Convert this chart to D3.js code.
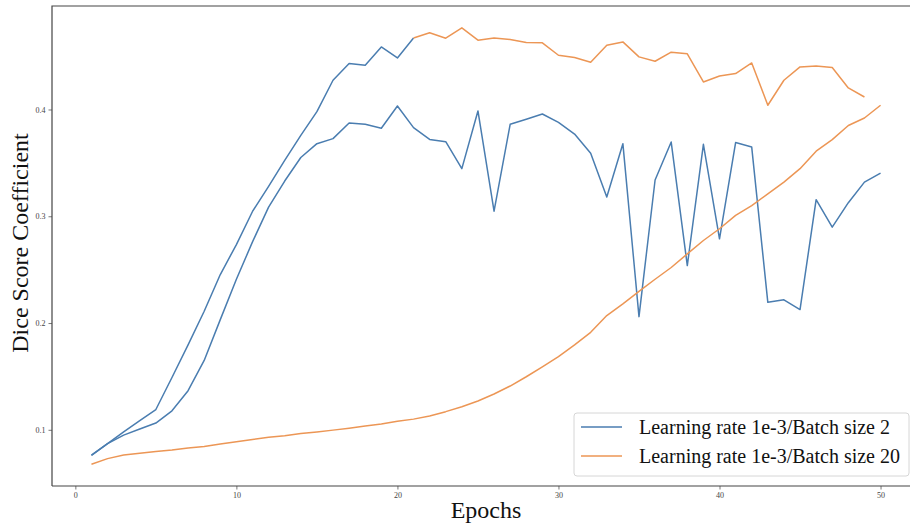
<!DOCTYPE html>
<html>
<head>
<meta charset="utf-8">
<script src="https://cdn.jsdelivr.net/npm/d3@7"></script>
<style>
  body { margin: 0; background: #fff; }
  svg { display: block; }
</style>
</head>
<body>
<svg id="chart" width="910" height="525"></svg>
<script>
// data
const epochs = d3.range(1, 51);
const bs2UpperEpochs = d3.range(1, 22);
const bs2Upper = [0.076, 0.087, 0.098, 0.1085, 0.119, 0.149, 0.1795, 0.211, 0.2454, 0.2735,
  0.3045, 0.328, 0.3523, 0.3758, 0.398, 0.4274, 0.443, 0.4415, 0.4586, 0.4483, 0.467];
const bs2Lower = [0.0763, 0.087, 0.095, 0.1007, 0.1063, 0.1178, 0.1366, 0.165, 0.2032, 0.241,
  0.276, 0.3085, 0.333, 0.355, 0.368, 0.3727, 0.3873, 0.3861, 0.3824, 0.4033,
  0.383, 0.372, 0.3699, 0.3446, 0.3986, 0.3048, 0.3861, 0.3908, 0.3958, 0.388,
  0.377, 0.359, 0.318, 0.368, 0.206, 0.334, 0.3695, 0.2538, 0.3674, 0.2789,
  0.369, 0.3648, 0.2194, 0.2217, 0.2126, 0.3155, 0.2898, 0.3127, 0.332, 0.3404];
const bs20UpperEpochs = d3.range(21, 50);
const bs20Upper = [0.467, 0.4718, 0.4668, 0.4765, 0.4649, 0.467, 0.4656, 0.4628, 0.4624, 0.4508,
  0.4487, 0.4443, 0.4602, 0.4633, 0.4493, 0.4452, 0.4537, 0.4521, 0.4258, 0.4314,
  0.4337, 0.4436, 0.404, 0.4274, 0.4399, 0.4408, 0.4393, 0.4202, 0.4117];
const bs20Lower = [0.0678, 0.073, 0.0763, 0.078, 0.0797, 0.081, 0.083, 0.0844, 0.0866, 0.0887,
  0.091, 0.093, 0.0945, 0.0965, 0.098, 0.0997, 0.1015, 0.1035, 0.1055, 0.108,
  0.110, 0.113, 0.117, 0.1216, 0.127, 0.1335, 0.141, 0.1497, 0.159, 0.1685,
  0.1795, 0.1913, 0.207, 0.218, 0.2297, 0.241, 0.252, 0.2648, 0.2773, 0.2883,
  0.3008, 0.31, 0.321, 0.332, 0.3446, 0.361, 0.3718, 0.385, 0.392, 0.404];
const xTicks = [0, 10, 20, 30, 40, 50];
const yTicks = [0.1, 0.2, 0.3, 0.4];
const legendLabels = ['Learning rate 1e-3/Batch size 2', 'Learning rate 1e-3/Batch size 20'];

const blue = '#4a7db0';
const orange = '#ec9655';
const serif = '"Liberation Serif", "Times New Roman", serif';

const svg = d3.select('#chart');
const margin = { top: 6, left: 52 };
const plotRight = 920;   // right spine falls just outside the picture
const plotBottom = 486;

// matplotlib-like 5% padding
const pad = (lo, hi) => [lo - (hi - lo) * 0.05, hi + (hi - lo) * 0.05];
const allY = bs2Upper.concat(bs2Lower, bs20Upper, bs20Lower);

const x = d3.scaleLinear()
  .domain(pad(1, 50))
  .range([margin.left, plotRight]);

const y = d3.scaleLinear()
  .domain(pad(d3.min(allY), d3.max(allY)))
  .range([plotBottom, margin.top]);

// axes
const xAxis = svg.append('g')
  .attr('transform', `translate(0,${plotBottom})`)
  .call(d3.axisBottom(x).tickValues(xTicks).tickFormat(d3.format('d')).tickSize(3.5).tickPadding(3));

const yAxis = svg.append('g')
  .attr('transform', `translate(${margin.left},0)`)
  .call(d3.axisLeft(y).tickValues(yTicks).tickFormat(d3.format('.1f')).tickSize(3.5).tickPadding(3));

[xAxis, yAxis].forEach(g => {
  g.select('.domain').remove();
  g.selectAll('line').attr('stroke', '#555').attr('stroke-width', 0.8);
  g.selectAll('text')
    .attr('fill', '#444')
    .style('font-family', serif)
    .style('font-size', '8px');
});

// spines
const spines = svg.append('g')
  .attr('stroke', '#444')
  .attr('stroke-width', 1.2)
  .attr('fill', 'none');
spines.append('path').attr('d', `M${margin.left},${plotBottom}V${margin.top}H${plotRight}`);
spines.append('path').attr('d', `M${margin.left},${plotBottom}H${plotRight}`);

// lines
const line = d3.line()
  .x(d => x(d[0]))
  .y(d => y(d[1]));

const series = [
  { ep: bs2UpperEpochs, vals: bs2Upper, color: blue },
  { ep: epochs, vals: bs2Lower, color: blue },
  { ep: bs20UpperEpochs, vals: bs20Upper, color: orange },
  { ep: epochs, vals: bs20Lower, color: orange }
];

svg.append('g')
  .selectAll('path')
  .data(series)
  .enter()
  .append('path')
  .attr('fill', 'none')
  .attr('stroke', d => d.color)
  .attr('stroke-width', 1.5)
  .attr('stroke-linejoin', 'round')
  .attr('d', d => line(d.ep.map((e, i) => [e, d.vals[i]])));

// axis labels
svg.append('text')
  .attr('x', (margin.left + plotRight) / 2)
  .attr('y', 518)
  .attr('text-anchor', 'middle')
  .style('font-family', serif)
  .style('font-size', '24px')
  .attr('fill', '#111')
  .text('Epochs');

svg.append('text')
  .attr('transform', `translate(28,${(margin.top + plotBottom) / 2 - 3}) rotate(-90)`)
  .attr('text-anchor', 'middle')
  .style('font-family', serif)
  .style('font-size', '24px')
  .attr('fill', '#111')
  .text('Dice Score Coefficient');

// legend
const legend = svg.append('g').attr('transform', 'translate(574,413)');
legend.append('rect')
  .attr('width', 335)
  .attr('height', 63)
  .attr('rx', 3)
  .attr('fill', '#fff')
  .attr('fill-opacity', 0.85)
  .attr('stroke', '#d6d6d6')
  .attr('stroke-width', 1);

legendLabels.forEach((label, i) => {
  const row = legend.append('g').attr('transform', `translate(0,${14 + i * 29})`);
  row.append('line')
    .attr('x1', 7).attr('x2', 48)
    .attr('stroke', i === 0 ? blue : orange)
    .attr('stroke-width', 1.5);
  row.append('text')
    .attr('x', 65)
    .attr('y', 7)
    .style('font-family', serif)
    .style('font-size', '20px')
    .attr('fill', '#111')
    .text(label);
});
</script>
</body>
</html>
